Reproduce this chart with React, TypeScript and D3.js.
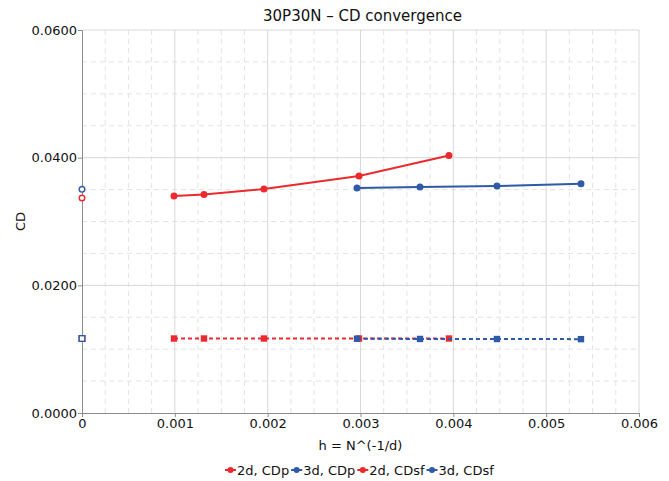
import React, { useEffect, useRef } from "react";
import * as d3 from "d3";

const title = "30P30N – CD convergence";
const xLabel = "h = N^(-1/d)";
const yLabel = "CD";

const h2d = [0.000991, 0.001314, 0.00196, 0.002984, 0.003953];
const cdp2d = [0.0340, 0.03423, 0.03508, 0.03714, 0.04033];
const cdsf2d = [0.01167, 0.01167, 0.01167, 0.01167, 0.01167];

const h3d = [0.002962, 0.003641, 0.00447, 0.005375];
const cdp3d = [0.03525, 0.03541, 0.03556, 0.03592];
const cdsf3d = [0.01164, 0.01160, 0.01159, 0.01157];

const extrapH = [0, 0, 0, 0];
const extrapCD = [0.03368, 0.03504, 0.01167, 0.01167];
const extrapSeries = ["2d, CDp", "3d, CDp", "2d, CDsf", "3d, CDsf"];

const seriesNames = ["2d, CDp", "3d, CDp", "2d, CDsf", "3d, CDsf"];

const xTicks = [0, 0.001, 0.002, 0.003, 0.004, 0.005, 0.006];
const yTicks = [0, 0.02, 0.04, 0.06];

const RED = "#ec2a2e";
const BLUE = "#2e5aa8";

export default function App() {
  const ref = useRef<SVGSVGElement>(null);

  useEffect(() => {
    const svg = d3.select(ref.current);
    svg.selectAll("*").remove();
    const W = 669, H = 481;
    const m = { l: 82, r: 30, t: 30, b: 68 };
    const x = d3.scaleLinear().domain([0, 0.006]).range([m.l, W - m.r]);
    const y = d3.scaleLinear().domain([0, 0.06]).range([H - m.b, m.t]);
    const font = "'DejaVu Sans', sans-serif";

    svg.append("rect").attr("width", W).attr("height", H).attr("fill", "#fff");

    // minor grid
    const xMinor = d3.range(0, 0.006 + 1e-9, 0.00025).filter((v) => Math.abs(v / 0.001 - Math.round(v / 0.001)) > 1e-6);
    const yMinor = d3.range(0, 0.06 + 1e-9, 0.005).filter((v) => Math.abs(v / 0.02 - Math.round(v / 0.02)) > 1e-6);
    const g = svg.append("g");
    g.selectAll("line.xm").data(xMinor).join("line")
      .attr("x1", (d) => x(d)).attr("x2", (d) => x(d)).attr("y1", y(0)).attr("y2", y(0.06))
      .attr("stroke", "#e3e3e3").attr("stroke-dasharray", "5,4").attr("stroke-width", 1);
    g.selectAll("line.ym").data(yMinor).join("line")
      .attr("y1", (d) => y(d)).attr("y2", (d) => y(d)).attr("x1", x(0)).attr("x2", x(0.006))
      .attr("stroke", "#e3e3e3").attr("stroke-dasharray", "5,4").attr("stroke-width", 1);
    g.selectAll("line.xg").data(xTicks.slice(1)).join("line")
      .attr("x1", (d) => x(d)).attr("x2", (d) => x(d)).attr("y1", y(0)).attr("y2", y(0.06))
      .attr("stroke", "#d8d8d8").attr("stroke-width", 1);
    g.selectAll("line.yg").data(yTicks.slice(1)).join("line")
      .attr("y1", (d) => y(d)).attr("y2", (d) => y(d)).attr("x1", x(0)).attr("x2", x(0.006))
      .attr("stroke", "#d8d8d8").attr("stroke-width", 1);

    // axes
    const xAxis = d3.axisBottom(x).tickValues(xTicks).tickFormat((d) => (d === 0 ? "0" : d3.format(".3f")(d as number))).tickSize(4).tickPadding(2);
    const yAxis = d3.axisLeft(y).tickValues(yTicks).tickFormat(d3.format(".4f") as any).tickSize(4).tickPadding(1);
    const ax = svg.append("g").attr("transform", `translate(0,${y(0)})`).call(xAxis);
    const ay = svg.append("g").attr("transform", `translate(${x(0)},0)`).call(yAxis);
    [ax, ay].forEach((a) => {
      a.select(".domain").attr("stroke", "#8c8c8c");
      a.selectAll(".tick line").attr("stroke", "#8c8c8c");
      a.selectAll("text").attr("font-family", font).attr("font-size", 13).attr("fill", "#111");
    });

    // series
    const line = d3.line<[number, number]>().x((d) => x(d[0])).y((d) => y(d[1]));
    const series = [
      { name: seriesNames[0], h: h2d, v: cdp2d, color: RED, dash: null, shape: "circle" },
      { name: seriesNames[1], h: h3d, v: cdp3d, color: BLUE, dash: null, shape: "circle" },
      { name: seriesNames[2], h: h2d, v: cdsf2d, color: RED, dash: "4,3", shape: "square" },
      { name: seriesNames[3], h: h3d, v: cdsf3d, color: BLUE, dash: "4,3", shape: "square" },
    ];
    // extrapolated open markers
    extrapH.forEach((hv, i) => {
      const s = series.find((q) => q.name === extrapSeries[i])!;
      if (s.shape === "circle") {
        svg.append("circle").attr("cx", x(hv)).attr("cy", y(extrapCD[i])).attr("r", 2.8)
          .attr("fill", "#fff").attr("stroke", s.color).attr("stroke-width", 1.4);
      } else {
        svg.append("rect").attr("x", x(hv) - 2.8).attr("y", y(extrapCD[i]) - 2.8).attr("width", 5.6).attr("height", 5.6)
          .attr("fill", "#fff").attr("stroke", s.color).attr("stroke-width", 1.4);
      }
    });

    series.forEach((s) => {
      const pts = s.h.map((hv, i) => [hv, s.v[i]] as [number, number]);
      const p = svg.append("path").attr("d", line(pts)).attr("fill", "none").attr("stroke", s.color).attr("stroke-width", 2);
      if (s.dash) p.attr("stroke-dasharray", s.dash);
      pts.forEach((pt) => {
        if (s.shape === "circle") {
          svg.append("circle").attr("cx", x(pt[0])).attr("cy", y(pt[1])).attr("r", 3.5).attr("fill", s.color);
        } else {
          svg.append("rect").attr("x", x(pt[0]) - 3.2).attr("y", y(pt[1]) - 3.2).attr("width", 6.4).attr("height", 6.4).attr("fill", s.color);
        }
      });
    });

    // title & labels
    svg.append("text").attr("x", (x(0) + x(0.006)) / 2 + 2).attr("y", 21).attr("text-anchor", "middle")
      .attr("font-family", font).attr("font-size", 15).attr("fill", "#111").text(title);
    svg.append("text").attr("x", (x(0) + x(0.006)) / 2).attr("y", 450).attr("text-anchor", "middle")
      .attr("font-family", font).attr("font-size", 13).attr("fill", "#111").text(xLabel);
    svg.append("text").attr("transform", `translate(25,${(y(0) + y(0.06)) / 2}) rotate(-90)`).attr("text-anchor", "middle")
      .attr("font-family", font).attr("font-size", 13).attr("fill", "#111").text(yLabel);

    // legend
    const lg = svg.append("g");
    let cx = 225;
    const ly = 470;
    series.forEach((s) => {
      lg.append("line").attr("x1", cx).attr("x2", cx + 11).attr("y1", ly).attr("y2", ly).attr("stroke", s.color).attr("stroke-width", 2);
      lg.append("circle").attr("cx", cx + 5.5).attr("cy", ly).attr("r", 3).attr("fill", s.color);
      const t = lg.append("text").attr("x", cx + 12).attr("y", ly + 4.5).attr("font-family", font).attr("font-size", 13).attr("fill", "#111").text(s.name);
      const w = (t.node() as SVGTextElement).getComputedTextLength();
      cx += 12 + w + 2;
    });
  }, []);

  return <svg ref={ref} width={669} height={481} style={{ position: "absolute", left: 0, top: 0 }} />;
}
